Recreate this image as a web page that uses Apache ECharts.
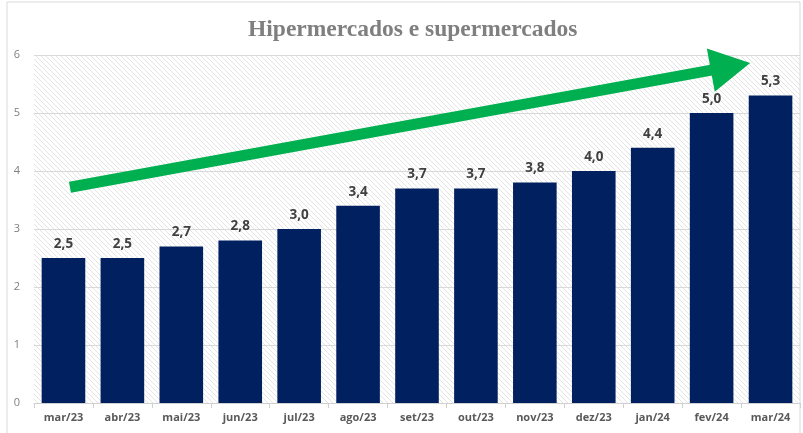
<!DOCTYPE html>
<html>
<head>
<meta charset="utf-8">
<script src="https://cdn.jsdelivr.net/npm/echarts@6/dist/echarts.min.js"></script>
<style>
  html, body { margin: 0; padding: 0; background: #fff; }
  #main { width: 803px; height: 433px; }
</style>
</head>
<body>
<div id="main"></div>
<script>
// categorias (meses)
var meses = ['mar/23', 'abr/23', 'mai/23', 'jun/23', 'jul/23', 'ago/23', 'set/23', 'out/23', 'nov/23', 'dez/23', 'jan/24', 'fev/24', 'mar/24'];
// valores
var valores = [2.5, 2.5, 2.7, 2.8, 3.0, 3.4, 3.7, 3.7, 3.8, 4.0, 4.4, 5.0, 5.3];
// seta de tendencia (posicao continua ao longo do eixo 0..13 / valor)
var setaInicio = [0.61, 3.72];
var setaFim = [11.82, 5.8];

// padrao hachurado do fundo
var pat = document.createElement('canvas');
pat.width = 5; pat.height = 5;
var ctx = pat.getContext('2d');
ctx.fillStyle = '#ffffff';
ctx.fillRect(0, 0, 5, 5);
ctx.strokeStyle = '#e4e4e4';
ctx.lineWidth = 1;
ctx.beginPath();
ctx.moveTo(0, 0); ctx.lineTo(5, 5);
ctx.moveTo(-1, 4); ctx.lineTo(1, 6);
ctx.moveTo(4, -1); ctx.lineTo(6, 1);
ctx.stroke();

var myChart = echarts.init(document.getElementById('main'));
var option = {
  animation: false,
  title: {
    text: 'Hipermercados e supermercados',
    left: 243,
    top: 13,
    textStyle: {
      fontFamily: 'Liberation Serif',
      fontWeight: 'bold',
      fontSize: 23.5,
      color: '#7f7f7f'
    }
  },
  graphic: [{
    type: 'rect',
    shape: { x: 7, y: 2, width: 793, height: 440 },
    style: { fill: 'none', stroke: '#d9d9d9', lineWidth: 1 },
    silent: true
  }],
  grid: {
    left: 34, right: 3, top: 55, bottom: 30,
    show: true,
    borderWidth: 0,
    backgroundColor: { image: pat, repeat: 'repeat' }
  },
  xAxis: [{
    type: 'category',
    data: meses,
    axisLine: { lineStyle: { color: '#d0d0d0' } },
    axisTick: { show: true, length: 5, lineStyle: { color: '#d0d0d0' } },
    axisLabel: {
      color: '#595959',
      fontFamily: 'Open Sans',
      fontWeight: 'bold',
      fontSize: 11,
      margin: 9
    }
  }, {
    // eixo auxiliar continuo para a seta
    type: 'value',
    min: 0, max: meses.length,
    show: false
  }],
  yAxis: {
    type: 'value',
    min: 0, max: 6, interval: 1,
    axisLine: { show: false },
    axisTick: { show: false },
    splitLine: { lineStyle: { color: '#d9d9d9' } },
    axisLabel: {
      color: '#7f7f7f',
      fontFamily: 'Open Sans',
      fontSize: 11,
      margin: 14
    }
  },
  series: [{
    type: 'bar',
    data: valores,
    barCategoryGap: '26%',
    itemStyle: { color: '#002060' },
    label: {
      show: true,
      position: 'top',
      distance: 7,
      color: '#404040',
      fontFamily: 'Open Sans',
      fontWeight: 'bold',
      fontSize: 13.5,
      formatter: function (p) { return p.value.toFixed(1).replace('.', ','); }
    }
  }, {
    type: 'line',
    xAxisIndex: 1,
    data: [],
    markLine: {
      silent: true,
      symbol: ['none', 'triangle'],
      symbolSize: [44, 40],
      label: { show: false },
      lineStyle: { color: '#00b050', width: 11, type: 'solid' },
      data: [[{ coord: setaInicio }, { coord: setaFim }]]
    }
  }]
};
myChart.setOption(option);
</script>
</body>
</html>
